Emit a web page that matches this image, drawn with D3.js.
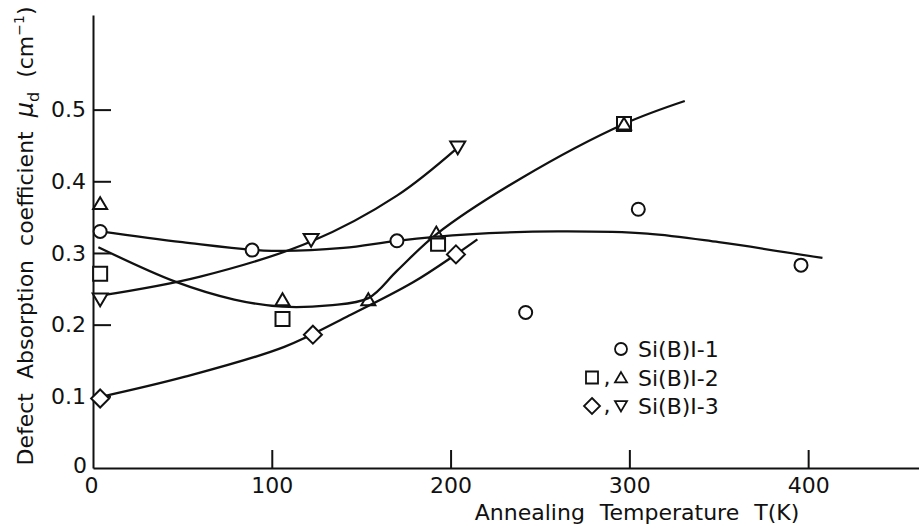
<!DOCTYPE html>
<html>
<head>
<meta charset="utf-8">
<script src="https://cdn.jsdelivr.net/npm/d3@7"></script>
<style>
  body { margin: 0; background: #fff; }
  svg { display: block; }
  text { font-family: "DejaVu Sans", sans-serif; fill: #111; }
</style>
</head>
<body>
<div id="chart"></div>
<script>
'use strict';
const circlePts = [[4, 0.330], [89, 0.304], [170, 0.317], [242, 0.217], [305, 0.361], [396, 0.283]];
const squarePts = [[4, 0.271], [106, 0.208], [193, 0.313], [297, 0.480]];
const trianglePts = [[4, 0.369], [106, 0.235], [154, 0.235], [192, 0.328], [297, 0.480]];
const diamondPts = [[4, 0.097], [123, 0.186], [203, 0.298]];
const triangleDownPts = [[4, 0.235], [122, 0.318], [204, 0.447]];

// hand drawn fit curves
const fitSi1 = [[4, 0.330], [50, 0.315], [100, 0.303], [140, 0.307], [170, 0.317], [210, 0.326],
  [260, 0.330], [310, 0.327], [350, 0.315], [408, 0.293]];
const fitSi2 = [[3, 0.308], [46, 0.260], [79, 0.235], [106, 0.225], [132, 0.227], [154, 0.237],
  [170, 0.275], [192, 0.326], [240, 0.405], [297, 0.480], [331, 0.512]];
const fitSi3a = [[4, 0.099], [51, 0.127], [107, 0.169], [142, 0.211], [179, 0.259],
  [203, 0.298], [215, 0.319]];
const fitSi3b = [[3, 0.240], [60, 0.267], [122, 0.316], [170, 0.380], [204, 0.447]];

const xTicks = [0, 100, 200, 300, 400];
const yTicks = [0, 0.1, 0.2, 0.3, 0.4, 0.5];

const legendRows = [
  { shapes: ["circle"], label: "Si(B)I-1" },
  { shapes: ["square", "triangle"], label: "Si(B)I-2" },
  { shapes: ["diamond", "triangleDown"], label: "Si(B)I-3" }
];

let width = 919, height = 527;
let svg = d3.select("#chart").append("svg")
  .attr("width", width)
  .attr("height", height);

let x = d3.scaleLinear().domain([0, 462]).range([93, 919]);
let y = d3.scaleLinear().domain([0, 0.632]).range([468, 15]);

// marker outlines, s = half width
function shapePath(type, s) {
  let p = d3.path();
  if (type === "circle") {
    p.arc(0, 0, s, 0, 2 * Math.PI);
  } else if (type === "square") {
    p.rect(-s, -s, 2 * s, 2 * s);
  } else if (type === "triangle") {
    p.moveTo(0, -s * 0.9); p.lineTo(s, s * 0.8); p.lineTo(-s, s * 0.8); p.closePath();
  } else if (type === "triangleDown") {
    p.moveTo(0, s * 0.9); p.lineTo(s, -s * 0.8); p.lineTo(-s, -s * 0.8); p.closePath();
  } else if (type === "diamond") {
    p.moveTo(0, -s); p.lineTo(s, 0); p.lineTo(0, s); p.lineTo(-s, 0); p.closePath();
  }
  return p.toString();
}
let markerSize = { circle: 6.5, square: 7, triangle: 7, triangleDown: 7.5, diamond: 9 };

// axes
let xAxis = d3.axisBottom(x)
  .tickValues(xTicks)
  .tickSize(-18)
  .tickSizeOuter(0)
  .tickPadding(9)
  .tickFormat(d3.format("d"));
let gx = svg.append("g")
  .attr("transform", "translate(0," + y(0) + ")")
  .call(xAxis);

let yAxis = d3.axisLeft(y)
  .tickValues(yTicks)
  .tickSize(-18)
  .tickSizeOuter(0)
  .tickPadding(7)
  .tickFormat(function (d) { return d === 0 ? "0" : d3.format(".1f")(d); });
let gy = svg.append("g")
  .attr("transform", "translate(" + x(0) + ",0)")
  .call(yAxis);

[gx, gy].forEach(function (g) {
  g.attr("font-family", null).attr("font-size", null);
  g.select(".domain").attr("stroke", "#111").attr("stroke-width", 2);
  g.selectAll(".tick line").attr("stroke", "#111").attr("stroke-width", 2)
    .filter(function (d) { return d === 0; }).remove();
  g.selectAll(".tick text").style("font-size", "22px").attr("fill", "#111");
});
gy.selectAll(".tick text").filter(function (d) { return d === 0; }).attr("dy", "0.2em").attr("x", -6);
gx.selectAll(".tick text").filter(function (d) { return d === 0; }).attr("dx", "-2");

// axis titles
svg.append("text")
  .attr("x", 637)
  .attr("y", 520)
  .attr("text-anchor", "middle")
  .style("font-size", "22px")
  .style("word-spacing", "8px")
  .text("Annealing Temperature T(K)");

let yTitle = svg.append("text")
  .attr("transform", "translate(33,236) rotate(-90)")
  .attr("text-anchor", "middle")
  .style("font-size", "22px")
  .style("word-spacing", "7px");
yTitle.append("tspan").text("Defect Absorption coefficient ");
yTitle.append("tspan").style("font-style", "italic").style("font-size", "24px").text("\u03bc");
yTitle.append("tspan").attr("dy", 6).style("font-size", "16px").text("d");
yTitle.append("tspan").attr("dy", -6).text(" (cm");
yTitle.append("tspan").attr("dy", -9).style("font-size", "14px").text("\u22121");
yTitle.append("tspan").attr("dy", 9).text(")");

// fit curves
let line = d3.line()
  .x(function (d) { return x(d[0]); })
  .y(function (d) { return y(d[1]); })
  .curve(d3.curveCatmullRom.alpha(0.5));

svg.append("g").selectAll("path")
  .data([fitSi1, fitSi2, fitSi3a, fitSi3b])
  .enter()
  .append("path")
  .attr("d", line)
  .attr("fill", "none")
  .attr("stroke", "#111")
  .attr("stroke-width", 2.3);

// markers
let series = [
  { type: "circle", pts: circlePts },
  { type: "diamond", pts: diamondPts },
  { type: "triangleDown", pts: triangleDownPts },
  { type: "square", pts: squarePts },
  { type: "triangle", pts: trianglePts }
];
series.forEach(function (s) {
  svg.append("g").selectAll("path")
    .data(s.pts)
    .enter()
    .append("path")
    .attr("transform", function (d) { return "translate(" + x(d[0]) + "," + y(d[1]) + ")"; })
    .attr("d", shapePath(s.type, markerSize[s.type]))
    .attr("fill", s.type === "triangle" ? "none" : "#fff")
    .attr("stroke", "#111")
    .attr("stroke-width", 2);
});

// legend
let legend = svg.append("g").attr("transform", "translate(638,349)");
legendRows.forEach(function (row, i) {
  let g = legend.append("g").attr("transform", "translate(0," + (i * 28.5) + ")");
  let n = row.shapes.length;
  row.shapes.forEach(function (t, j) {
    let cx = -17 - (n - 1 - j) * 29;
    g.append("path")
      .attr("transform", "translate(" + cx + ",0)")
      .attr("d", shapePath(t, t === "diamond" ? 8 : 6))
      .attr("fill", "none")
      .attr("stroke", "#111")
      .attr("stroke-width", 1.8);
  });
  if (n > 1) {
    g.append("text").attr("x", -31).attr("y", 7).attr("text-anchor", "middle")
      .style("font-size", "22px").text(",");
  }
  g.append("text")
    .attr("x", 0)
    .attr("y", 8)
    .style("font-size", "22px")
    .text(row.label);
});
</script>
</body>
</html>
